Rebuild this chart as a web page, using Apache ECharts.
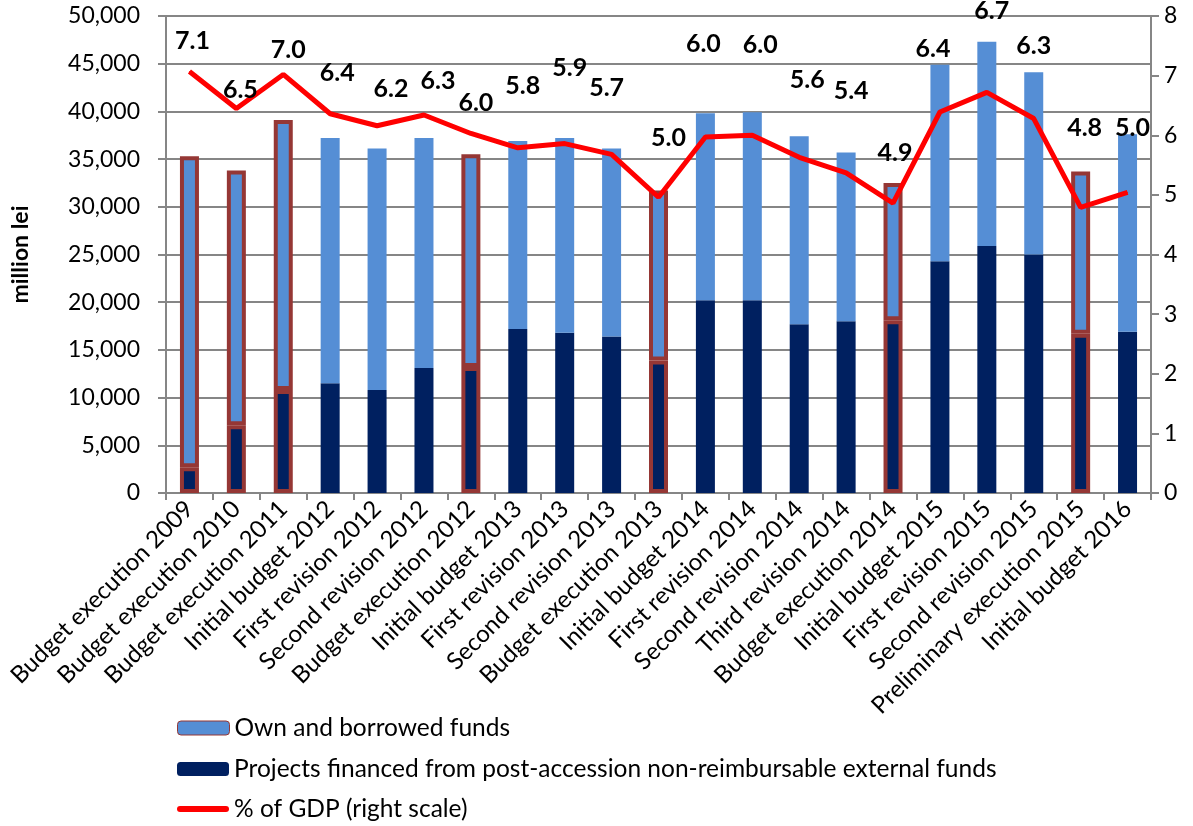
<!DOCTYPE html>
<html>
<head>
<meta charset="utf-8">
<script src="https://cdn.jsdelivr.net/npm/echarts@6/dist/echarts.min.js"></script>
<style>html,body{margin:0;padding:0;background:#fff}#c{width:1193px;height:826px}</style>
</head>
<body>
<div id="c"></div>
<script>
const categories = ["Budget execution 2009","Budget execution 2010","Budget execution 2011","Initial budget 2012","First revision 2012","Second revision 2012","Budget execution 2012","Initial budget 2013","First revision 2013","Second revision 2013","Budget execution 2013","Initial budget 2014","First revision 2014","Second revision 2014","Third revision 2014","Budget execution 2014","Initial budget 2015","First revision 2015","Second revision 2015","Preliminary execution 2015","Initial budget 2016"];
// totals (million lei)
const totalSpending = [35300,33800,39100,37200,36100,37200,35500,36900,37200,36100,31700,39800,39900,37400,35700,32500,44900,47300,44100,33700,37600];
const euFunds = [2700,7100,10800,11500,10800,13100,13200,17200,16800,16400,13900,20200,20200,17700,18000,18100,24300,25900,25000,16700,16900];
const ownFunds = totalSpending.map((t,i)=>t-euFunds[i]);
const gdpShare = [7.07,6.45,7.02,6.36,6.16,6.34,6.03,5.79,5.86,5.68,4.96,5.97,6.00,5.63,5.37,4.86,6.39,6.72,6.28,4.79,5.04];
const executionFlags = [1,1,1,0,0,0,1,0,0,0,1,0,0,0,0,1,0,0,0,1,0];
const leftTicks = {min:0,max:50000,interval:5000};
const rightTicks = {min:0,max:8,interval:1};
const seriesNames = ['Own and borrowed funds','Projects financed from post-accession non-reimbursable external funds','% of GDP (right scale)'];
// label placement (style): pixel offsets of the % labels from their points
const labelDx = [3,4,5,7,14,14,5,5,5,-5,10,-2,8,8,5,2,-7,5,0,4,5];
const labelDy = [-31,-18,-24,-41,-37,-34,-31,-62,-76,-66,-59,-93,-90,-77,-82,-50,-63,-81,-73,-79,-65];

const FONT = 'Lato, "Open Sans", sans-serif';
const BORDER = '#953735';
function barItems(vals){
  return vals.map((v,i)=> executionFlags[i] ? {value:v,itemStyle:{borderColor:BORDER,borderWidth:4}} : v);
}
const legendBase = {orient:'vertical',left:177,padding:0,itemWidth:52,itemHeight:14,
  textStyle:{fontFamily:FONT,fontSize:24.5,color:'#000',lineHeight:26}};
const chart = echarts.init(document.getElementById('c'));
chart.setOption({
  animation:false,
  backgroundColor:'#fff',
  grid:{left:166,right:42,top:16,bottom:333,containLabel:false},
  legend:[
    Object.assign({},legendBase,{top:715,data:[{name:seriesNames[0],itemStyle:{borderColor:BORDER,borderWidth:1}}]}),
    Object.assign({},legendBase,{top:756,data:[{name:seriesNames[1]}]}),
    Object.assign({},legendBase,{top:796,itemHeight:6,data:[{name:seriesNames[2],icon:'path://M3,0 L49,0 A3,3 0 0 1 49,6 L3,6 A3,3 0 0 1 3,0 Z'}]})
  ],
  xAxis:{
    type:'category', data:categories,
    axisLine:{lineStyle:{color:'#868686',width:2}},
    axisTick:{show:true,length:7,lineStyle:{color:'#868686',width:2}},
    axisLabel:{rotate:45,margin:12,interval:0,fontFamily:FONT,fontSize:24,color:'#000'}
  },
  yAxis:[
    {type:'value',min:leftTicks.min,max:leftTicks.max,interval:leftTicks.interval,
     name:'million lei',nameLocation:'middle',nameGap:134,nameRotate:90,
     nameTextStyle:{fontFamily:FONT,fontSize:23,fontWeight:'bold',color:'#000'},
     axisLine:{show:true,lineStyle:{color:'#868686',width:2}},
     axisTick:{show:true,length:8,lineStyle:{color:'#868686',width:2}},
     splitLine:{lineStyle:{color:'#868686',width:2}},
     axisLabel:{margin:26,fontFamily:FONT,fontSize:23,color:'#000',
       formatter:v=>v.toLocaleString('en-US')}},
    {type:'value',min:rightTicks.min,max:rightTicks.max,interval:rightTicks.interval,position:'right',
     axisLine:{show:true,lineStyle:{color:'#868686',width:2}},
     axisTick:{show:true,length:8,lineStyle:{color:'#868686',width:2}},
     splitLine:{show:false},
     axisLabel:{margin:13,fontFamily:FONT,fontSize:23,color:'#000'}}
  ],
  series:[
    {name:seriesNames[1],type:'bar',stack:'s',
     barWidth:19,data:barItems(euFunds),itemStyle:{color:'#002060'}},
    {name:seriesNames[0],type:'bar',stack:'s',barWidth:19,
     data:barItems(ownFunds),itemStyle:{color:'#558ED5'}},
    {name:seriesNames[2],type:'line',yAxisIndex:1,z:5,
     symbol:'circle',symbolSize:1,showSymbol:true,
     lineStyle:{color:'#FF0000',width:5},itemStyle:{color:'#FF0000'},
     data:gdpShare.map((v,i)=>({value:v,label:{offset:[labelDx[i],labelDy[i]]}})),
     label:{show:true,position:'inside',fontFamily:FONT,fontSize:25,fontWeight:'bold',color:'#000',
       formatter:p=>p.value.toFixed(1)}}
  ]
});
</script>
</body>
</html>
